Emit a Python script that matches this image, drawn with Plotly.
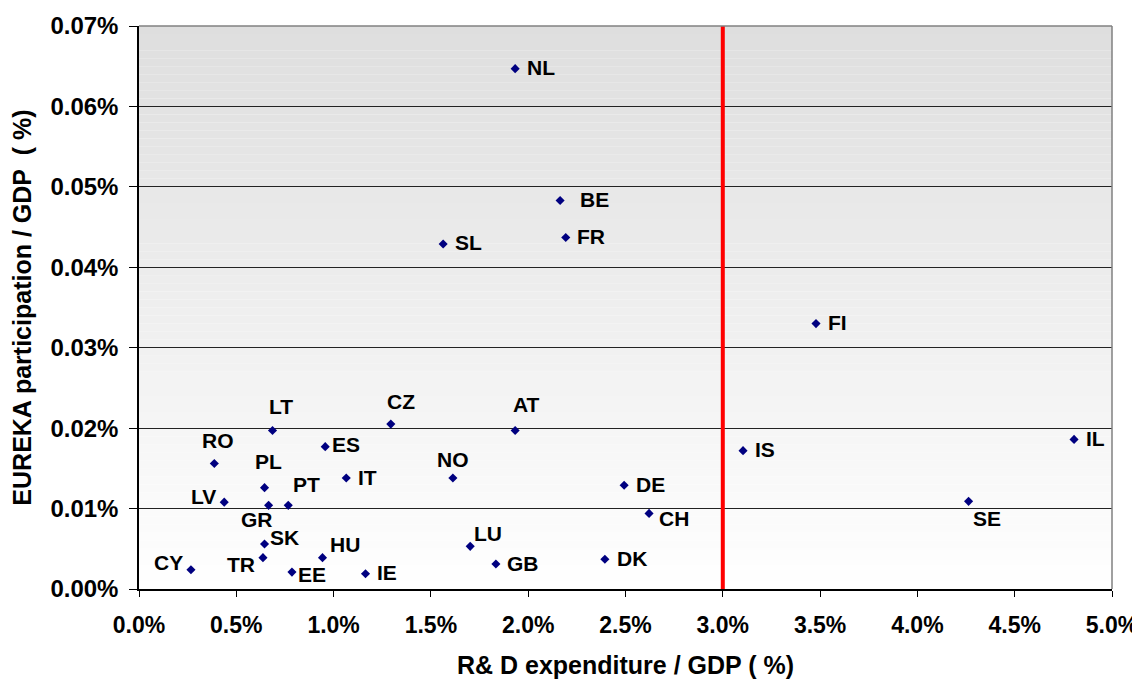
import plotly.graph_objects as go

# ---- data (percent values) ----
countries = ["NL", "BE", "FR", "SL", "FI", "IS", "IL", "SE", "DE", "CH", "DK",
             "AT", "CZ", "NO", "LU", "GB", "LT", "ES", "RO", "IT", "PL", "PT",
             "LV", "GR", "SK", "TR", "HU", "EE", "IE", "CY"]
rd_gdp = [1.933, 2.164, 2.193, 1.563, 3.479, 3.104, 4.805, 4.263, 2.493, 2.621, 2.394,
          1.933, 1.294, 1.613, 1.702, 1.834, 0.686, 0.957, 0.387, 1.065, 0.645, 0.767,
          0.438, 0.666, 0.645, 0.637, 0.943, 0.786, 1.164, 0.267]
eureka_gdp = [0.0647, 0.0483, 0.0437, 0.0429, 0.0330, 0.0172, 0.0186, 0.0109, 0.0129, 0.0094, 0.0037,
              0.0197, 0.0205, 0.0138, 0.0053, 0.0031, 0.0197, 0.0177, 0.0156, 0.0138, 0.0126, 0.0104,
              0.0108, 0.0104, 0.0056, 0.0039, 0.0039, 0.0021, 0.0019, 0.0024]
target_rd = 3.0
x_ticks = [0.0, 0.5, 1.0, 1.5, 2.0, 2.5, 3.0, 3.5, 4.0, 4.5, 5.0]
y_ticks = [0.00, 0.01, 0.02, 0.03, 0.04, 0.05, 0.06, 0.07]

# ---- label placement (pixel offsets from marker: dx right, dy down) ----
label_offsets = {
    "NL": (26, -1.5), "BE": (34, -1), "FR": (25, -1), "SL": (25, -1), "FI": (21, -1),
    "IS": (22, -1), "IL": (21, -1), "SE": (18, 17.5), "DE": (26, -1), "CH": (25, 5.5),
    "DK": (27, -0.5), "AT": (11, -26.5), "CZ": (10.5, -23), "NO": (0.6, -18.2),
    "LU": (18, -13), "GB": (27, -0.5), "LT": (8.5, -24.3), "ES": (21, -2.2),
    "RO": (3.5, -23.2), "IT": (21, -1), "PL": (4.4, -26.6), "PT": (18.3, -21.2),
    "LV": (-20.7, -5.2), "GR": (-11.5, 14.5), "SK": (20, -6.5), "TR": (-22.4, 7),
    "HU": (22.4, -13.6), "EE": (20.3, 2.5), "IE": (21.7, -1), "CY": (-22.4, -7.4),
}

FONT = "Liberation Sans, Arial, sans-serif"
fig = go.Figure()

# vertical 3% target line
fig.add_trace(go.Scatter(x=[target_rd, target_rd], y=[y_ticks[0], y_ticks[-1]],
                         mode="lines", line=dict(color="#ff0000", width=4),
                         hoverinfo="skip", showlegend=False))

fig.add_trace(go.Scatter(x=rd_gdp, y=eureka_gdp, mode="markers", text=countries,
                         marker=dict(symbol="diamond", size=7, color="#000080"),
                         showlegend=False))

annotations = []
for c, xv, yv in zip(countries, rd_gdp, eureka_gdp):
    dx, dy = label_offsets[c]
    annotations.append(dict(x=xv, y=yv, xref="x", yref="y", text="<b>%s</b>" % c,
                            showarrow=False, xanchor="center", yanchor="middle",
                            xshift=dx, yshift=-dy,
                            font=dict(family=FONT, size=21, color="black")))

# gradient background
shapes = []
n = 70
y0, y1 = y_ticks[0], y_ticks[-1]
for i in range(n):
    a = y0 + (y1 - y0) * i / n
    b = y0 + (y1 - y0) * (i + 1) / n
    t = (i + 0.5) / n
    v = int(round(255 - (255 - 222) * t))
    shapes.append(dict(type="rect", xref="paper", yref="y", x0=0, x1=1, y0=a, y1=b,
                       fillcolor="rgb(%d,%d,%d)" % (v, v, v), line=dict(width=0),
                       layer="below"))
# top and right border (gray)
shapes.append(dict(type="line", xref="paper", yref="paper", x0=0, x1=1, y0=1, y1=1,
                   line=dict(color="#808080", width=1.5), layer="above"))
shapes.append(dict(type="line", xref="paper", yref="paper", x0=1, x1=1, y0=0, y1=1,
                   line=dict(color="#808080", width=1.5), layer="above"))

fig.update_layout(
    width=1132, height=671,
    margin=dict(l=131, r=28, t=18, b=90, autoexpand=False),
    paper_bgcolor="white", plot_bgcolor="white",
    shapes=shapes, annotations=annotations,
    font=dict(family=FONT, color="black"),
    xaxis=dict(range=[x_ticks[0], x_ticks[-1]], tickvals=x_ticks,
               ticktext=["%.1f%%" % v for v in x_ticks],
               showgrid=False, zeroline=False, showline=True, linecolor="black",
               linewidth=1.5, ticks="outside", ticklen=6, tickcolor="black",
               ticklabelstandoff=9,
               tickfont=dict(family=FONT, size=23, color="black", weight="bold"),
               title=dict(text="<b>R& D expenditure / GDP ( %)</b>", standoff=21,
                          font=dict(family=FONT, size=25, color="black"))),
    yaxis=dict(range=[y_ticks[0], y_ticks[-1]], tickvals=y_ticks,
               ticktext=["%.2f%%" % v for v in y_ticks],
               showgrid=True, gridcolor="#222222", gridwidth=1,
               zeroline=False, showline=True, linecolor="black",
               linewidth=1.5, ticks="outside", ticklen=8, tickcolor="black",
               ticklabelstandoff=6,
               tickfont=dict(family=FONT, size=24, color="black", weight="bold"),
               title=dict(text="<b>EUREKA participation / GDP\u00a0 ( %)</b>", standoff=12,
                          font=dict(family=FONT, size=25, color="black"))),
)

fig.write_html("out.html")
